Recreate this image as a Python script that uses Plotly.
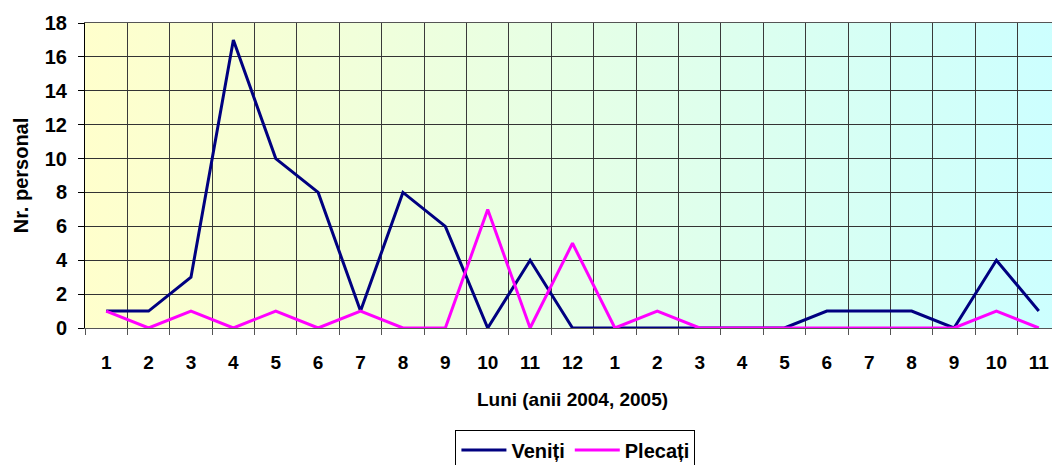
import plotly.graph_objects as go

luni = ["1","2","3","4","5","6","7","8","9","10","11","12",
        "1","2","3","4","5","6","7","8","9","10","11"]
veniti = [1,1,3,17,10,8,1,8,6,0,4,0,0,0,0,0,0,1,1,1,0,4,1]
plecati = [1,0,1,0,1,0,1,0,0,7,0,5,0,1,0,0,0,0,0,0,0,1,0]

xpos = list(range(len(luni)))
FONT = "Liberation Sans, Arial, sans-serif"

svg = ("data:image/svg+xml;utf8,<svg xmlns='http://www.w3.org/2000/svg' width='100' height='100' preserveAspectRatio='none'>"
       "<defs><linearGradient id='g' x1='0' y1='0' x2='1' y2='0'>"
       "<stop offset='0' stop-color='%23FFFFCC'/><stop offset='1' stop-color='%23CCFFFF'/>"
       "</linearGradient></defs><rect width='100' height='100' fill='url(%23g)'/></svg>")

fig = go.Figure()
fig.add_trace(go.Scatter(x=xpos, y=veniti, mode="lines", name="<b>Veniți</b>",
                         line=dict(color="#000080", width=3)))
fig.add_trace(go.Scatter(x=xpos, y=plecati, mode="lines", name="<b>Plecați</b>",
                         line=dict(color="#FF00FF", width=3)))

fig.update_layout(
    width=1052, height=475,
    margin=dict(l=77, r=0, t=15, b=155),
    paper_bgcolor="white", plot_bgcolor="rgba(0,0,0,0)",
    font=dict(family=FONT, size=20, color="black"),
    images=[dict(source=svg, xref="paper", yref="paper", x=0, y=1, sizex=1, sizey=1,
                 sizing="stretch", layer="below", xanchor="left", yanchor="top")],
    showlegend=True,
    legend=dict(orientation="h", x=0.503, xanchor="center", y=-0.333, yanchor="top",
                bordercolor="black", borderwidth=1, bgcolor="white",
                font=dict(family=FONT, size=20, color="black"),
                itemwidth=45, tracegroupgap=0, indentation=0),
)
fig.update_xaxes(
    range=[-0.5, len(luni) - 0.5],
    tickmode="array", tickvals=xpos, ticktext=[f"<b>{t}</b>" for t in luni],
    ticks="", showgrid=False, tickfont=dict(size=19), ticklabelstandoff=17,
    minor=dict(tick0=-0.5, dtick=1, showgrid=True, gridcolor="#3a3a3a", gridwidth=1,
               ticks="outside", ticklen=6, tickcolor="#555"),
    showline=True, linecolor="#555", linewidth=1, mirror=True,
    title=dict(text="<b>Luni (anii 2004, 2005)</b>", standoff=20, font=dict(size=19)),
    automargin=False, zeroline=False,
)
fig.update_yaxes(
    range=[0, 18], ticks="outside", ticklen=6, tickcolor="black",
    showgrid=True, gridcolor="#333", gridwidth=1, zeroline=False,
    showline=True, linecolor="black", linewidth=1, mirror=True,
    tickfont=dict(size=20), ticklabelstandoff=7,
    tickvals=list(range(0, 19, 2)), ticktext=[f"<b>{v}</b>" for v in range(0, 19, 2)],
    title=dict(text="<b>Nr. personal</b>", standoff=10, font=dict(size=20)),
    automargin=False,
)

fig.write_html("out.html",
               post_script="document.body.style.overflow='hidden';document.documentElement.style.overflow='hidden';")
